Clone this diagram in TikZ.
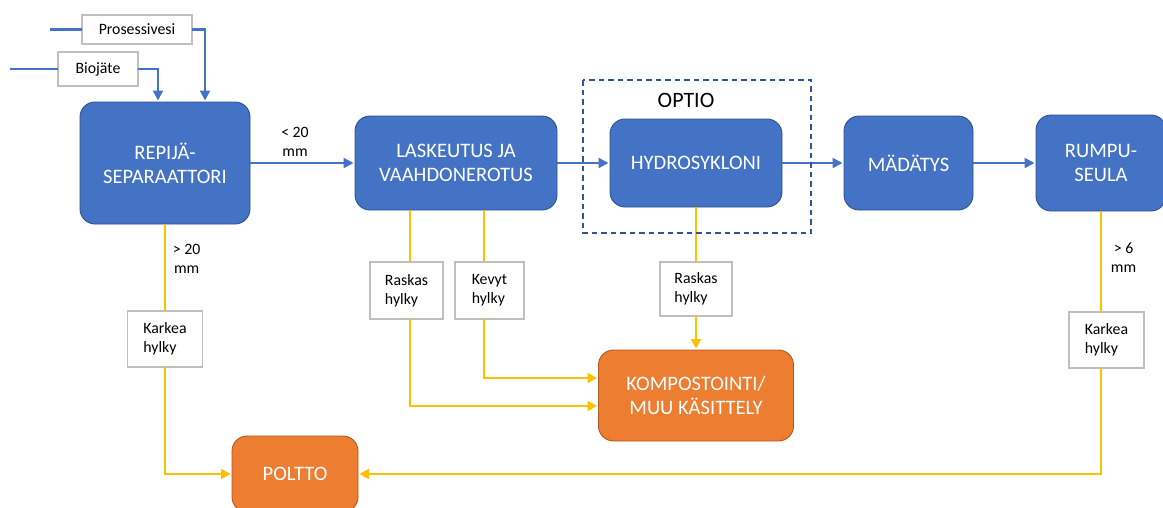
\documentclass[tikz,border=0pt]{standalone}
\usepackage{fontspec}
\setmainfont{Carlito}
\usetikzlibrary{arrows.meta,positioning}
\definecolor{boxblue}{HTML}{4472C4}
\definecolor{boxblueline}{HTML}{2F528F}
\definecolor{boxorange}{HTML}{ED7D31}
\definecolor{boxorangeline}{HTML}{AE5A21}
\definecolor{rejectyellow}{HTML}{FFC000}
\definecolor{tagline}{HTML}{BFBFBF}
\definecolor{optionline}{HTML}{2F5597}

\begin{document}
\begin{tikzpicture}[
        stage/.style={rectangle, rounded corners=3mm, draw=boxblueline, line width=0.5pt, fill=boxblue, text=white, align=center, inner sep=1mm, outer sep=0pt, font=\fontsize{11.7}{13.6}\selectfont},
        sink/.style={stage, draw=boxorangeline, fill=boxorange},
        tag/.style={rectangle, draw=tagline, fill=white, line width=0.6pt, align=left, inner sep=0.8mm, outer sep=0pt, font=\fontsize{9}{10.8}\selectfont},
        note/.style={align=center, inner sep=0.5pt, font=\fontsize{9}{10.8}\selectfont},
        feed/.style={line width=1.2pt, draw=boxblue},
        flow/.style={feed, -{Triangle[length=2mm,width=2mm]}, shorten >=0.3mm},
        reject/.style={line width=1.2pt, draw=rejectyellow},
        rejectarrow/.style={reject, -{Triangle[length=1.9mm,width=2mm]}, shorten >=0.3mm},
        optframe/.style={draw=optionline, line width=0.7pt, dash pattern=on 1.1mm off 0.8mm}
    ]
        \path[use as bounding box, fill=white] (0,0) rectangle (232.6mm,-101.6mm);
        \clip (0,0) rectangle (232.6mm,-101.6mm);

        \node[stage, minimum width=34mm, minimum height=24.4mm] (repija) at (33mm,-32.6mm) {REPIJÄ-\\SEPARAATTORI};
        \node[stage, minimum width=40.4mm, minimum height=18.8mm, right=21mm of repija] (laskeutus) {LASKEUTUS JA\\VAAHDONEROTUS};
        \node[stage, minimum width=34.4mm, minimum height=17.6mm, right=10.6mm of laskeutus] (hydro) {HYDROSYKLONI};
        \node[stage, minimum width=25.8mm, minimum height=18.8mm, right=12.4mm of hydro] (madatys) {MÄDÄTYS};
        \node[stage, minimum width=26mm, minimum height=19.2mm, right=12.6mm of madatys] (rumpu) {RUMPU-\\SEULA};

        \node[sink, minimum width=39mm, minimum height=18.2mm, below=28.6mm of hydro] (komp) {KOMPOSTOINTI/\\MUU KÄSITTELY};
        \node[sink, minimum width=25.2mm, minimum height=15.2mm] (poltto) at (59mm,-94.8mm) {POLTTO};

        \node[tag, minimum width=22mm, minimum height=5.8mm] (vesi) at (27.4mm,-5.9mm) {Prosessivesi};
        \node[tag, minimum width=16mm, minimum height=6.8mm] (bio) at (19.6mm,-13.8mm) {Biojäte};
        \node[tag, minimum width=15mm, minimum height=11.2mm, below=17.4mm of repija] (karkea1) {Karkea\\hylky};
        \node[tag, minimum width=14.6mm, minimum height=11.4mm, below=10.4mm of laskeutus.south, xshift=-9.9mm] (raskas1) {Raskas\\hylky};
        \node[tag, minimum width=13.8mm, minimum height=11.4mm, below=10.4mm of laskeutus.south, xshift=6.7mm] (kevyt) {Kevyt\\hylky};
        \node[tag, minimum width=14.4mm, minimum height=10.8mm, below=11mm of hydro] (raskas2) {Raskas\\hylky};
        \node[tag, minimum width=15mm, minimum height=11.2mm, below=20.2mm of rumpu, xshift=1.1mm] (karkea2) {Karkea\\hylky};

        \node[font=\fontsize{12.5}{14}\selectfont, inner sep=0pt, above=2.2mm of hydro, xshift=-2mm] (optio) {OPTIO};

        \coordinate[left=6.4mm of vesi.west] (vesiin);
        \coordinate[left=9.6mm of bio.west] (bioin);

        \draw[feed] (vesiin) -- (vesi);
        \draw[flow] (vesi) -| ([xshift=8mm]repija.north);
        \draw[feed] (bioin) -- (bio);
        \draw[flow] (bio) -| ([xshift=-1.4mm]repija.north);

        \draw[flow] (repija) -- node[note, above=1mm, xshift=-1.5mm] {< 20\\mm} (laskeutus);
        \draw[flow] (laskeutus) -- (hydro);
        \draw[flow] (hydro) -- (madatys);
        \draw[flow] (madatys) -- (rumpu);

        \draw[reject] (repija) -- node[note, right=1.2mm, pos=0.4] {> 20\\mm} (karkea1);
        \draw[rejectarrow] (karkea1) |- (poltto);
        \draw[reject] ([xshift=0.7mm]raskas1.north |- laskeutus.south) -- ([xshift=0.7mm]raskas1.north);
        \draw[rejectarrow] ([xshift=0.7mm]raskas1.south) |- ([yshift=-2.1mm]komp.west);
        \draw[reject] ([xshift=-1.1mm]kevyt.north |- laskeutus.south) -- ([xshift=-1.1mm]kevyt.north);
        \draw[rejectarrow] ([xshift=-1.1mm]kevyt.south) |- ([yshift=3.5mm]komp.west);
        \draw[reject] (hydro) -- (raskas2);
        \draw[rejectarrow] (raskas2) -- (komp);
        \draw[reject] (rumpu.south) -- node[note, right=1.6mm, pos=0.46] {> 6\\mm} (rumpu.south |- karkea2.north);
        \draw[rejectarrow] (rumpu.south |- karkea2.south) |- (poltto);

        \draw[optframe] ([xshift=-5.4mm,yshift=7.8mm]hydro.north west) rectangle ([xshift=5.8mm,yshift=-5.2mm]hydro.south east);
    \end{tikzpicture}
\end{document}
